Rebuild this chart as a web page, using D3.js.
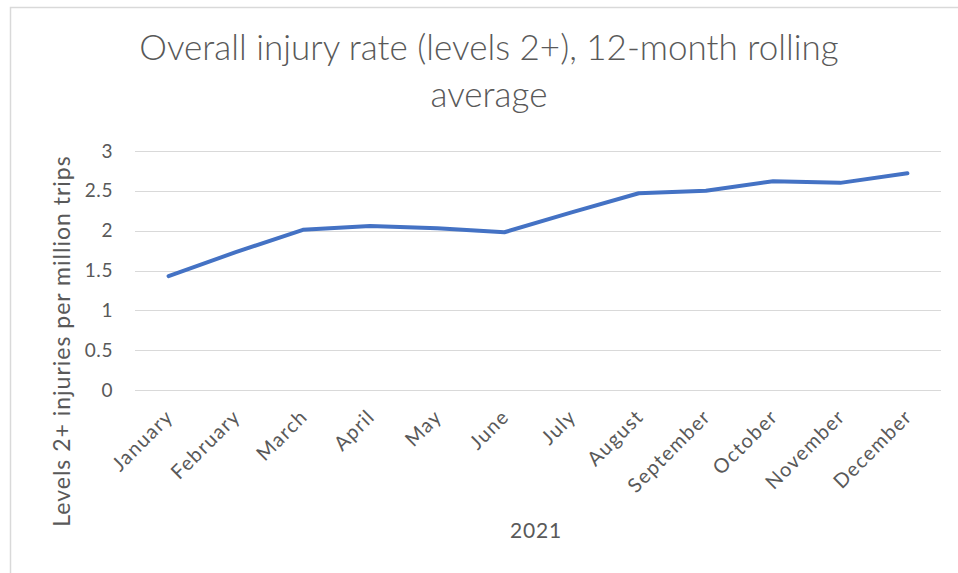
<!DOCTYPE html>
<html>
<head>
    <script src="https://d3js.org/d3.v7.min.js"></script>
    <style>
        body { margin: 0; background: #fff; }
        text { font-family: Lato, "Open Sans", sans-serif; fill: #595959; }
    </style>
</head>
<body>
    <div id="chart"></div>
    <script>
        let months = ["January", "February", "March", "April", "May", "June", "July", "August", "September", "October", "November", "December"];
        let rates = [1.43, 1.73, 2.01, 2.06, 2.03, 1.98, 2.23, 2.47, 2.50, 2.62, 2.60, 2.72];
        let yTicks = [0, 0.5, 1, 1.5, 2, 2.5, 3];
        let titleLines = ["Overall injury rate (levels 2+), 12-month rolling", "average"];
        let yTitle = "Levels 2+ injuries per million trips";
        let xTitle = "2021";

        let width = 958;
        let height = 573;
        let marginLeft = 135;
        let marginRight = 17;
        let marginTop = 151;
        let plotBottom = 390;

        let svg = d3.select("#chart").append("svg")
            .attr("width", width)
            .attr("height", height);

        // chart frame (only top and left edges show in the picture)
        svg.append("path")
            .attr("d", `M10.5,${height} V7.5 H${width}`)
            .attr("fill", "none")
            .attr("stroke", "#d9d9d9")
            .attr("stroke-width", 1.5);

        let x = d3.scalePoint()
            .domain(months)
            .range([marginLeft, width - marginRight])
            .padding(0.5);

        let y = d3.scaleLinear()
            .domain([0, 3])
            .range([plotBottom, marginTop]);

        // gridlines
        svg.append("g")
            .selectAll("line")
            .data(yTicks)
            .join("line")
            .attr("x1", marginLeft)
            .attr("x2", width - marginRight)
            .attr("y1", d => Math.round(y(d)) + 0.5)
            .attr("y2", d => Math.round(y(d)) + 0.5)
            .attr("stroke", "#d9d9d9")
            .attr("stroke-width", 1);

        // y axis labels
        svg.append("g")
            .attr("transform", `translate(${marginLeft - 22},0)`)
            .call(d3.axisLeft(y).tickValues(yTicks).tickSize(0).tickPadding(0).tickFormat(d3.format("")))
            .call(g => g.select(".domain").remove())
            .call(g => g.selectAll("text")
                .attr("font-size", 19)
                .attr("font-family", null)
                .attr("fill", "#595959")
                .attr("letter-spacing", 0.6));

        // x axis labels, rotated
        svg.append("g")
            .selectAll("text")
            .data(months)
            .join("text")
            .attr("transform", d => `translate(${x(d) + 6},${plotBottom + 28}) rotate(-45)`)
            .attr("text-anchor", "end")
            .attr("font-size", 20)
            .attr("letter-spacing", 1.3)
            .text(d => d);

        // line
        let line = d3.line()
            .x((d, i) => x(months[i]))
            .y(d => y(d));

        svg.append("path")
            .datum(rates)
            .attr("fill", "none")
            .attr("stroke", "#4472c4")
            .attr("stroke-width", 4)
            .attr("stroke-linejoin", "round")
            .attr("stroke-linecap", "round")
            .attr("d", line);

        // title
        svg.append("g")
            .selectAll("text")
            .data(titleLines)
            .join("text")
            .attr("x", 489)
            .attr("y", (d, i) => 60 + i * 47)
            .attr("text-anchor", "middle")
            .attr("font-size", 35)
            .attr("font-weight", 300)
            .text(d => d);

        // axis titles
        svg.append("text")
            .attr("transform", "translate(70,341) rotate(-90)")
            .attr("text-anchor", "middle")
            .attr("font-size", 23)
            .attr("letter-spacing", 1)
            .text(yTitle);

        svg.append("text")
            .attr("x", 536)
            .attr("y", 538)
            .attr("text-anchor", "middle")
            .attr("font-size", 21)
            .attr("letter-spacing", 0.8)
            .text(xTitle);
    </script>
</body>
</html>
